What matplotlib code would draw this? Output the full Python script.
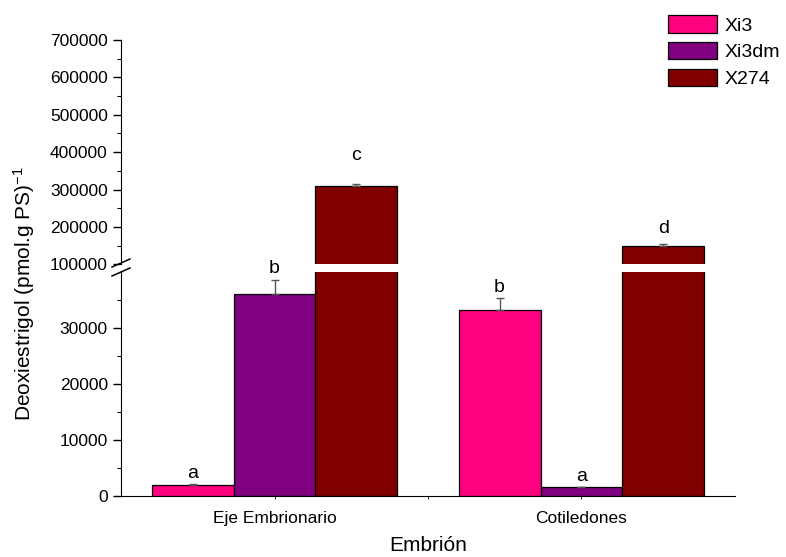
import numpy as np
import matplotlib
matplotlib.use('Agg')
import matplotlib.pyplot as plt
from matplotlib.lines import Line2D

plt.rcParams['font.family'] = ['Liberation Sans', 'DejaVu Sans']
plt.rcParams['mathtext.fontset'] = 'custom'
plt.rcParams['mathtext.rm'] = 'Liberation Sans'
plt.rcParams['mathtext.it'] = 'Liberation Sans:italic'
plt.rcParams['axes.unicode_minus'] = False

# datos: deoxiestrigol por genotipo y tejido
grupos = ['Eje Embrionario', 'Cotiledones']
genotipos = ['Xi3', 'Xi3dm', 'X274']
media = {
    'Xi3': [2000, 33200],
    'Xi3dm': [36000, 1500],
    'X274': [310000, 150000],
}
error = {
    'Xi3': [150, 2200],
    'Xi3dm': [2600, 150],
    'X274': [5000, 5000],
}
letras = {
    'Xi3': ['a', 'b'],
    'Xi3dm': ['b', 'a'],
    'X274': ['c', 'd'],
}
colores = {'Xi3': '#FF0080', 'Xi3dm': '#800080', 'X274': '#800000'}

fig = plt.figure(figsize=(7.86, 5.57), dpi=100)
ax_alto = fig.add_axes([0.154, 0.5255, 0.781, 0.4027])
ax_bajo = fig.add_axes([0.154, 0.110, 0.781, 0.4017])

x = np.arange(1, len(grupos) + 1)
ancho = 0.8 / len(genotipos)

for ax in (ax_alto, ax_bajo):
    for i, g in enumerate(genotipos):
        pos = x + (i - 1) * ancho
        ax.bar(pos, media[g], width=ancho, color=colores[g], edgecolor='black',
               linewidth=0.9, label=g)
        ax.errorbar(pos, media[g], yerr=[np.zeros(len(grupos)), error[g]],
                    fmt='none', ecolor='#555555', elinewidth=1, capsize=3)
    ax.set_xlim(0.5, 2.5)
    ax.spines['top'].set_visible(False)
    ax.spines['right'].set_visible(False)
    ax.tick_params(axis='y', direction='out', length=6, width=1, labelsize=12.5)
    ax.tick_params(axis='y', which='minor', direction='out', length=3, width=0.8)

ax_alto.set_ylim(100000, 700000)
ax_alto.set_yticks(np.arange(100000, 700001, 100000))
ax_alto.set_yticks(np.arange(150000, 700000, 100000), minor=True)
ax_alto.spines['bottom'].set_visible(False)
ax_alto.set_xticks([])

ax_bajo.set_ylim(0, 40000)
ax_bajo.set_yticks([0, 10000, 20000, 30000])
ax_bajo.set_yticks(np.arange(5000, 40000, 10000), minor=True)
ax_bajo.set_xticks(x)
ax_bajo.set_xticklabels(grupos, fontsize=12.5)
ax_bajo.set_xticks([1.5], minor=True)
ax_bajo.tick_params(axis='x', which='both', direction='out', length=2, width=0.6, pad=9)
ax_bajo.set_xlabel('Embrión', fontsize=15, labelpad=7)

# letras de significancia sobre cada barra
desplaz = {'Xi3': [4, 4], 'Xi3dm': [5, 4], 'X274': [17, 7.5]}
for i, g in enumerate(genotipos):
    pos = x + (i - 1) * ancho
    for j in range(len(grupos)):
        tope = media[g][j] + error[g][j]
        ax = ax_alto if tope > 40000 else ax_bajo
        ax.annotate(letras[g][j], (pos[j], tope), xytext=(0, desplaz[g][j]),
                    textcoords='offset points', ha='center', va='baseline', fontsize=14)

# marcas de corte del eje
for yp in (263, 272):
    y0 = 1 - (yp + 4) / 557
    y1 = 1 - (yp - 4) / 557
    fig.add_artist(Line2D([112 / 786, 130 / 786], [y0, y1], color='black', lw=1.1))

fig.text(0.03, 1 - 294 / 557, 'Deoxiestrigol (pmol.g PS)$^{-1}$', rotation=90,
         ha='center', va='center', fontsize=15)

handles, labels = ax_bajo.get_legend_handles_labels()
fig.legend(handles, labels, loc='upper right', bbox_to_anchor=(1.01, 0.997),
           frameon=False, fontsize=14, handlelength=2.5, handleheight=1.0,
           labelspacing=0.38, handletextpad=0.4, borderaxespad=0.3)

fig.savefig('out.png', dpi=100)
